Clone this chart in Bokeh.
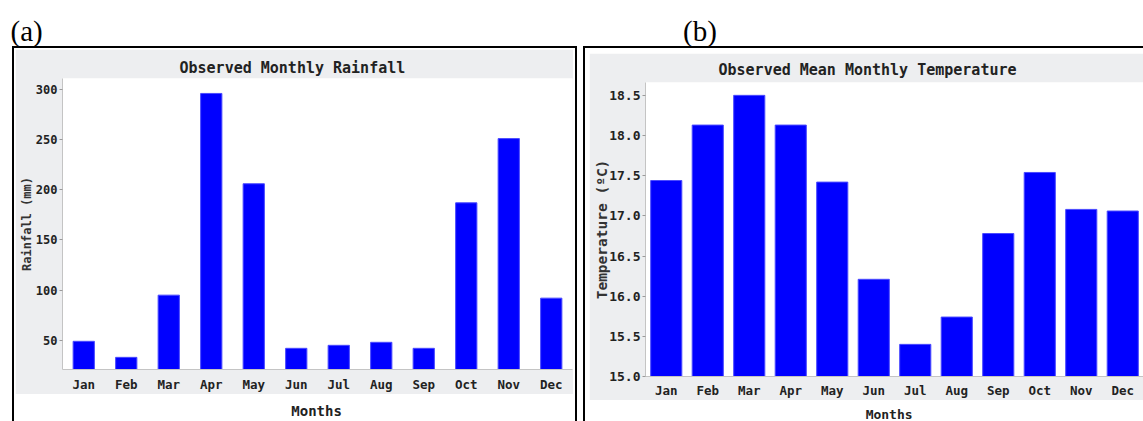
from bokeh.plotting import figure
from bokeh.models import FactorRange, Range1d, Label, FixedTicker, PrintfTickFormatter
from bokeh.layouts import column, row
from bokeh.embed import file_html
from bokeh.resources import INLINE

# ---------------- data ----------------
months = ["Jan", "Feb", "Mar", "Apr", "May", "Jun", "Jul", "Aug", "Sep", "Oct", "Nov", "Dec"]
rainfall_mm = [49, 33, 95, 296, 206, 42, 45, 48, 42, 187, 251, 92]
temperature_c = [17.44, 18.13, 18.50, 18.13, 17.42, 16.21, 15.40, 15.74, 16.78, 17.54, 17.08, 17.06]
rain_ticks = [50, 100, 150, 200, 250, 300]
temp_ticks = [15.0, 15.5, 16.0, 16.5, 17.0, 17.5, 18.0, 18.5]
rain_title = "Observed Monthly Rainfall"
temp_title = "Observed Mean Monthly Temperature"
rain_ylabel = "Rainfall (mm)"
temp_ylabel = "Temperature (\u00baC)"
xlabel = "Months"

GRAY = "#EDEEF0"
MONO = "DejaVu Sans Mono"
BAR = "#0000FF"


def bar_chart(values, ticks, y_start, y_end, width, height, mbl, mbr, mbt, mbb,
              title, title_offset, title_standoff, title_size,
              ylabel, ylabel_size, ylabel_standoff, ytick_size, xtick_size, xstandoff,
              bar_width, fmt=None):
    p = figure(x_range=FactorRange(*months), y_range=Range1d(y_start, y_end),
               width=width, height=height, toolbar_location=None, output_backend="svg",
               min_border_left=mbl, min_border_right=mbr, min_border_top=mbt, min_border_bottom=mbb,
               title=title)
    p.x_range.range_padding = 0
    p.background_fill_color = "white"
    p.border_fill_color = GRAY
    p.outline_line_color = None
    p.grid.visible = False
    p.vbar(x=months, top=values, bottom=0, width=bar_width,
           fill_color=BAR, line_color="#4a4aff", line_width=1)

    p.title.text_font = MONO
    p.title.text_font_size = title_size
    p.title.text_font_style = "bold"
    p.title.text_color = "#222222"
    p.title.align = "left"
    p.title.offset = title_offset
    p.title.standoff = title_standoff

    ya = p.yaxis[0]
    ya.ticker = FixedTicker(ticks=ticks)
    if fmt:
        ya.formatter = PrintfTickFormatter(format=fmt)
    ya.axis_label = ylabel
    ya.axis_label_text_font = MONO
    ya.axis_label_text_font_size = ylabel_size
    ya.axis_label_text_font_style = "bold"
    ya.axis_label_text_color = "#333333"
    ya.axis_label_standoff = ylabel_standoff
    ya.major_label_text_font = MONO
    ya.major_label_text_font_size = ytick_size
    ya.major_label_text_font_style = "bold"
    ya.major_label_text_color = "#222222"
    ya.major_label_standoff = 2
    ya.major_tick_in = 0
    ya.major_tick_out = 3
    ya.major_tick_line_color = "#9a9a9a"
    ya.minor_tick_line_color = None
    ya.axis_line_color = "#c4c4c4"

    xa = p.xaxis[0]
    xa.major_label_text_font = MONO
    xa.major_label_text_font_size = xtick_size
    xa.major_label_text_font_style = "bold"
    xa.major_label_text_color = "#222222"
    xa.major_label_standoff = xstandoff
    xa.major_tick_in = 0
    xa.major_tick_out = 0
    xa.major_tick_line_color = None
    xa.axis_line_color = "#c4c4c4"
    return p


def blank(width, height):
    f = figure(width=width, height=height, x_range=Range1d(0, width), y_range=Range1d(0, height),
               toolbar_location=None, output_backend="svg", min_border=0,
               x_axis_type=None, y_axis_type=None)
    f.outline_line_color = None
    f.background_fill_color = "white"
    f.border_fill_color = "white"
    return f


# ---------------- panel (a) ----------------
pa = bar_chart(rainfall_mm, rain_ticks, 20.9, 310.9, 558, 345, 47, 1, 29, 24,
               rain_title, 117, 4, "15px", rain_ylabel, "12px", -1, "12px", "12.5px", 7, 0.5)
la = blank(558, 27)
la.add_layout(Label(x=278, y=11, text=xlabel, text_font=MONO, text_font_size="14px",
                    text_font_style="bold", text_align="center", text_baseline="middle",
                    text_color="#222222"))
panel_a = column(pa, la, margin=(0, 0, 0, 12),
                 styles={"border-top": "2px solid black", "border-left": "2px solid black",
                         "border-right": "2px solid black", "padding": "1px 2px 0px 1px",
                         "background-color": "white"})

# ---------------- panel (b) ----------------
pb = bar_chart(temperature_c, temp_ticks, 15.0, 18.66, 554, 347, 56, 0, 29, 23,
               temp_title, 73, 7, "15px", temp_ylabel, "14.5px", -4, "13px", "12.5px", 6, 0.75,
               fmt="%.1f")
lb = blank(554, 21)
lb.add_layout(Label(x=271, y=7, text=xlabel, text_font=MONO, text_font_size="13px",
                    text_font_style="bold", text_align="center", text_baseline="middle",
                    text_color="#222222"))
panel_b = column(pb, lb, margin=(0, 0, 0, 6),
                 styles={"border-top": "2px solid black", "border-left": "2px solid black",
                         "padding": "5px 0px 0px 4px", "background-color": "white"})

# ---------------- header ----------------
hd = blank(1143, 46)
hd.add_layout(Label(x=10, y=15.5, text="(a)", text_font="Liberation Serif", text_font_size="29px",
                    text_align="left", text_baseline="middle", text_color="black"))
hd.add_layout(Label(x=699.5, y=15.5, text="(b)", text_font="Liberation Serif", text_font_size="29px",
                    text_align="center", text_baseline="middle", text_color="black"))

layout = column(hd, row(panel_a, panel_b))

open("out.html", "w").write(file_html(layout, INLINE))
